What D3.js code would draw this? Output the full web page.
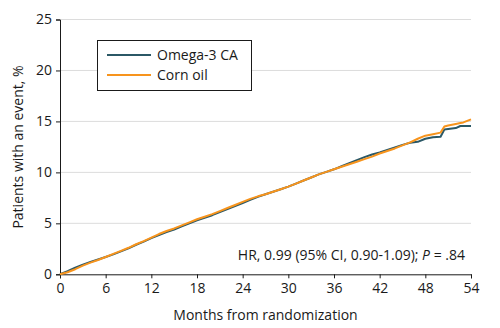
<!DOCTYPE html>
<html lang="en">
<head>
<meta charset="UTF-8">
<title>Cumulative events</title>
<script src="https://d3js.org/d3.v7.min.js"></script>
<style>
    body { margin: 0; background: #fff; }
    svg { display: block; font-family: "Open Sans", Roboto, sans-serif; }
</style>
</head>
<body>
<svg id="chart" width="500" height="328"></svg>
<script>
    // months from randomization
    const months = [0, 1, 2, 3, 4, 5, 6, 7, 8, 9, 10, 11, 12, 13, 14, 15, 16, 17, 18, 19,
        20, 21, 22, 23, 24, 25, 26, 27, 28, 29, 30, 31, 32, 33, 34, 35, 36, 37, 38, 39,
        40, 41, 42, 43, 44, 45, 46, 47, 48, 49, 50, 50.5, 51, 52, 52.6, 53, 54];

    // cumulative % of patients with an event
    const omega3 = [0, 0.3, 0.65, 0.95, 1.2, 1.45, 1.7, 1.95, 2.25, 2.55, 2.9, 3.2, 3.55, 3.85, 4.15, 4.4, 4.7, 5.0, 5.3, 5.55,
        5.8, 6.1, 6.4, 6.7, 7.0, 7.3, 7.6, 7.85, 8.1, 8.35, 8.6, 8.9, 9.2, 9.5, 9.8, 10.05, 10.3, 10.6, 10.9, 11.2,
        11.5, 11.75, 11.95, 12.2, 12.45, 12.7, 12.9, 13.0, 13.3, 13.45, 13.5, 14.2, 14.25, 14.35, 14.55, 14.55, 14.55];
    const cornOil = [0, 0.2, 0.5, 0.85, 1.15, 1.4, 1.7, 2.0, 2.3, 2.6, 2.95, 3.25, 3.6, 3.95, 4.25, 4.5, 4.8, 5.1, 5.4, 5.65,
        5.9, 6.2, 6.5, 6.8, 7.1, 7.4, 7.65, 7.85, 8.1, 8.35, 8.6, 8.9, 9.2, 9.5, 9.8, 10.05, 10.3, 10.55, 10.8, 11.05,
        11.3, 11.55, 11.85, 12.1, 12.35, 12.65, 12.95, 13.3, 13.6, 13.75, 13.9, 14.5, 14.6, 14.75, 14.85, 14.9, 15.2];

    const xTicks = [0, 6, 12, 18, 24, 30, 36, 42, 48, 54];
    const yTicks = [0, 5, 10, 15, 20, 25];

    const series = [
        { name: 'Omega-3 CA', values: omega3, color: '#2b5866' },
        { name: 'Corn oil', values: cornOil, color: '#f7941d' }
    ];

    const svg = d3.select('#chart');
    const x = d3.scaleLinear().domain([0, 54]).range([60, 471]);
    const y = d3.scaleLinear().domain([0, 25]).range([274.3, 19.5]);

    // gridlines
    svg.append('g')
        .selectAll('line')
        .data(yTicks.filter(d => d > 0))
        .enter()
        .append('line')
        .attr('x1', x(0))
        .attr('x2', x(54))
        .attr('y1', d => y(d))
        .attr('y2', d => y(d))
        .attr('stroke', '#dcdcdc')
        .attr('stroke-width', 1);

    const yAxis = svg.append('g')
        .attr('transform', `translate(${x(0)},0)`)
        .call(d3.axisLeft(y).tickValues(yTicks).tickSize(4).tickPadding(4));

    const xAxis = svg.append('g')
        .attr('transform', `translate(0,${y(0)})`)
        .call(d3.axisBottom(x).tickValues(xTicks).tickSize(4).tickPadding(5));

    [xAxis, yAxis].forEach(a => {
        a.select('.domain').attr('stroke', '#1a1a1a').attr('stroke-width', 1);
        a.selectAll('.tick line').attr('stroke', '#1a1a1a');
        a.selectAll('.tick text')
            .attr('fill', '#1a1a1a')
            .style('font-size', '14px')
            .style('font-family', '"Open Sans", sans-serif');
    });

    // curves
    const line = d3.line()
        .x((d, i) => x(months[i]))
        .y(d => y(d))
        .curve(d3.curveLinear);

    series.forEach(s => {
        svg.append('path')
            .datum(s.values)
            .attr('fill', 'none')
            .attr('stroke', s.color)
            .attr('stroke-width', 2)
            .attr('stroke-linejoin', 'round')
            .attr('d', line);
    });

    // legend
    const legend = svg.append('g');
    legend.append('rect')
        .attr('x', 97.5)
        .attr('y', 40.5)
        .attr('width', 154)
        .attr('height', 50)
        .attr('fill', '#fff')
        .attr('stroke', '#1a1a1a')
        .attr('stroke-width', 1);

    series.forEach((s, i) => {
        const ly = 55 + i * 20;
        legend.append('line')
            .attr('x1', 107)
            .attr('x2', 151)
            .attr('y1', ly)
            .attr('y2', ly)
            .attr('stroke', s.color)
            .attr('stroke-width', 2);
        legend.append('text')
            .attr('x', 157)
            .attr('y', ly + 5)
            .attr('fill', '#1a1a1a')
            .style('font-size', '14px')
            .text(s.name);
    });

    // axis titles
    svg.append('text')
        .attr('transform', 'translate(23,147) rotate(-90)')
        .attr('text-anchor', 'middle')
        .attr('fill', '#1a1a1a')
        .style('font-size', '14px')
        .text('Patients with an event, %');

    svg.append('text')
        .attr('x', 265.5)
        .attr('y', 320)
        .attr('text-anchor', 'middle')
        .attr('fill', '#1a1a1a')
        .style('font-size', '14px')
        .text('Months from randomization');

    // hazard ratio note
    const note = svg.append('text')
        .attr('x', 465)
        .attr('y', 260)
        .attr('text-anchor', 'end')
        .attr('fill', '#1a1a1a')
        .style('font-size', '14px');
    note.append('tspan').text('HR, 0.99 (95% CI, 0.90-1.09); ');
    note.append('tspan').attr('font-style', 'italic').text('P');
    note.append('tspan').text(' = .84');
</script>
</body>
</html>
